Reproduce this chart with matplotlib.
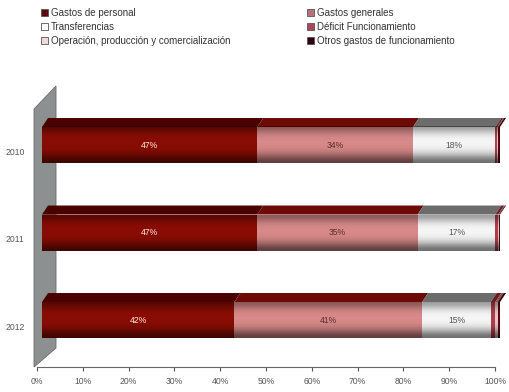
import numpy as np
import matplotlib
matplotlib.use("Agg")
import matplotlib.pyplot as plt
from matplotlib.patches import Polygon, Patch
import matplotlib.transforms as mtransforms
from matplotlib import font_manager

names = set(f.name for f in font_manager.fontManager.ttflist)
fam = [f for f in ['Liberation Sans Narrow', 'DejaVu Sans Condensed', 'Liberation Sans']
       if f in names] + ['DejaVu Sans']
plt.rcParams['font.family'] = fam
narrow = fam[0] in ('Liberation Sans Narrow', 'DejaVu Sans Condensed')
fs_leg = 8.5 if narrow else 7
fs_tick = 6.8 if narrow else 6.2

################################################################################
years = ['2010', '2011', '2012']
personal = [47, 47, 42]
generales = [34, 35, 41]
transferencias = [18, 17, 15]
deficit = [0.4, 0.6, 1.0]
operacion = [0.2, 0.2, 0.5]
otros = [0.4, 0.2, 0.5]

series = [('Gastos de personal', personal),
          ('Gastos generales', generales),
          ('Transferencias', transferencias),
          ('Déficit Funcionamiento', deficit),
          ('Operación, producción y comercialización', operacion),
          ('Otros gastos de funcionamiento', otros)]
front_col = ['#8a0d04', '#d98a8a', '#f6f6f6', '#b0404c', '#ecc6c6', '#5a0812']
top_col = ['#4a0200', '#6e0a06', '#6c6c6c', '#6a1a20', '#8a5050', '#300006']
lab_col = ['#ffe8e0', '#5a2a2a', '#555555', 'white', 'white', 'white']
leg_col = ['#5a0a10', '#b8707c', 'white', '#b04458', '#f0d8d8', '#30000c']


def bar_plot():
    fig = plt.figure(figsize=(5.10, 3.92), dpi=100)
    W, H = 510, 392
    L, R, B, T = 37, 495, 367, 85
    ax = fig.add_axes([L / W, (H - B) / H, (R - L) / W, (B - T) / H])
    ylo, yhi = -0.537, 2.686
    ax.set_xlim(0, 100)
    ax.set_ylim(ylo, yhi)

    ppx = (R - L) / 100.0           # pixels per percent
    ppy = (B - T) / (yhi - ylo)     # pixels per category unit
    h = 36 / ppy                    # front face height
    dx, dy = 6 / ppx, 9 / ppy       # depth of the bar top
    shift = mtransforms.ScaledTranslation(5 / 100, 0, fig.dpi_scale_trans)
    tr = ax.transData + shift

    # gray side wall
    def axf(px, py):
        return ((px - L) / (R - L), (B - py) / (B - T))
    wall = Polygon([axf(34, 109), axf(56, 86), axf(56, 348), axf(34, 367)],
                   closed=True, facecolor='#8c9090', edgecolor='#6a6a6a',
                   lw=0.6, transform=ax.transAxes, clip_on=False, zorder=1)
    ax.add_patch(wall)

    pos = np.arange(len(years))[::-1]
    # shading profile for the front faces
    prof = np.linspace(0, 1, 60)
    alpha = 0.55 * np.exp(-(prof / 0.25) ** 2) + 0.35 * np.exp(-((prof - 1.0) / 0.2) ** 2)
    shade = np.zeros((60, 1, 4))
    shade[:, 0, 3] = alpha[::-1]

    left = np.zeros(len(years))
    for k, (name, vals) in enumerate(series):
        vals = np.array(vals, dtype=float)
        bars = ax.barh(pos, vals, left=left, height=h, color=front_col[k],
                       edgecolor='none', transform=tr, zorder=3)
        for b in bars:
            b.set_clip_on(False)
        for i in range(len(years)):
            l, r = left[i], left[i] + vals[i]
            top = pos[i] + h / 2
            ax.add_patch(Polygon([(l, top), (l + dx, top + dy), (r + dx, top + dy), (r, top)],
                                 closed=True, facecolor=top_col[k], edgecolor='none',
                                 transform=tr, zorder=3, clip_on=False))
            if vals[i] >= 5:
                ax.text((l + r) / 2, pos[i], '%d%%' % vals[i], ha='center', va='center',
                        fontsize=fs_tick, color=lab_col[k], transform=tr, zorder=5)
        left += vals

    for i in range(len(years)):
        im = ax.imshow(shade, extent=(0, left[i], pos[i] - h / 2, pos[i] + h / 2),
                       aspect='auto', zorder=4, interpolation='bilinear')
        im.set_transform(tr)
        im.set_clip_on(False)
    ax.set_xlim(0, 100)
    ax.set_ylim(ylo, yhi)

    ax.set_yticks(pos)
    ax.set_yticklabels(years)
    ax.set_xticks(np.arange(0, 101, 10))
    ax.set_xticklabels(['%d%%' % v for v in range(0, 101, 10)])
    ax.tick_params(axis='y', length=0, labelsize=fs_tick, colors='#555555', pad=9)
    ax.tick_params(axis='x', length=3, labelsize=fs_tick, colors='#555555', pad=4)
    ydown = mtransforms.ScaledTranslation(0, -6 / 100, fig.dpi_scale_trans)
    for lbl in ax.get_yticklabels():
        lbl.set_transform(lbl.get_transform() + ydown)
    for s in ['top', 'right', 'left']:
        ax.spines[s].set_visible(False)
    ax.spines['bottom'].set_color('#666666')
    ax.spines['bottom'].set_linewidth(0.8)

    def handles(idx):
        return [Patch(facecolor=leg_col[k], edgecolor='#555555', lw=0.6,
                      label=series[k][0]) for k in idx]
    kw = dict(loc='upper left', frameon=False, fontsize=fs_leg, handlelength=0.75,
              handleheight=0.75, handletextpad=0.3, labelspacing=0.4,
              labelcolor='#333333', borderaxespad=0, borderpad=0)
    fig.legend(handles=handles([0, 2, 4]), bbox_to_anchor=(41 / W, 1 - 8 / H), **kw)
    fig.legend(handles=handles([1, 3, 5]), bbox_to_anchor=(307 / W, 1 - 8 / H), **kw)

    fig.savefig('out.png', dpi=100, facecolor='white')


if __name__ == "__main__":
    bar_plot()
